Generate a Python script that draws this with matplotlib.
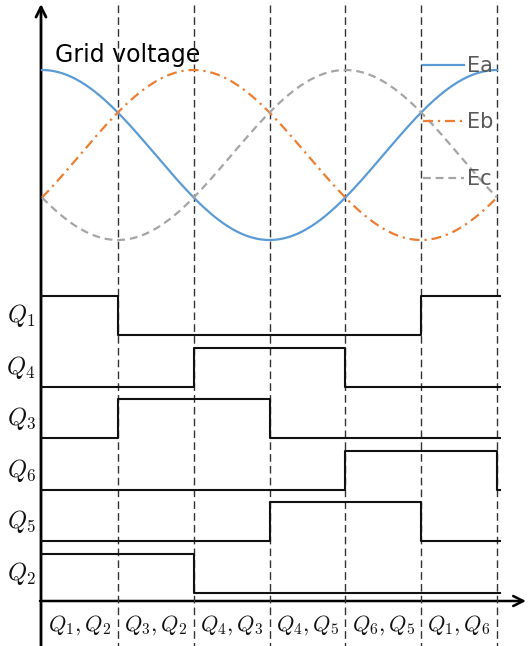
import numpy as np
import matplotlib
matplotlib.use("Agg")
import matplotlib.pyplot as plt

# ---------------- data ----------------
sector_bounds = [0, 60, 120, 180, 240, 300, 360]          # electrical degrees
phase_names = ["Ea", "Eb", "Ec"]
phase_shift = [0, -120, 120]                                # degrees
phase_amp = [1.0, 1.0, 1.0]

switch_names = ["$Q_1$", "$Q_4$", "$Q_3$", "$Q_6$", "$Q_5$", "$Q_2$"]
Q1 = [1, 0, 0, 0, 0, 1]
Q4 = [0, 0, 1, 1, 0, 0]
Q3 = [0, 1, 1, 0, 0, 0]
Q6 = [0, 0, 0, 0, 1, 1]
Q5 = [0, 0, 0, 1, 1, 0]
Q2 = [1, 1, 0, 0, 0, 0]
switch_states = [Q1, Q4, Q3, Q6, Q5, Q2]
switch_tail = [1, 0, 0, 0, 0, 0]   # level right after 360 deg

sector_labels = ["$Q_1, Q_2$", "$Q_3, Q_2$", "$Q_4, Q_3$",
                 "$Q_4, Q_5$", "$Q_6, Q_5$", "$Q_1, Q_6$"]

# ---------------- layout ----------------
W, H = 528, 646
plt.rcParams['mathtext.fontset'] = 'cm'
plt.rcParams['font.family'] = ['DejaVu Sans']

fig = plt.figure(figsize=(W / 100, H / 100), dpi=100)

def frac(x0, y0, x1, y1):
    return [x0 / W, 1 - y1 / H, (x1 - x0) / W, (y1 - y0) / H]

X0, X1 = 42, 497

# background pixel axes
ax0 = fig.add_axes([0, 0, 1, 1])
ax0.set_xlim(0, W)
ax0.set_ylim(H, 0)
ax0.axis('off')

# full-height axes for sector boundaries
axf = fig.add_axes(frac(X0, 0, X1, H))
axf.set_xlim(sector_bounds[0], sector_bounds[-1])
axf.set_ylim(H, 0)
axf.axis('off')
axf.vlines(sector_bounds[1:], 5, H, colors='#333333', linewidth=1.0,
           linestyles=(0, (5.5, 3)), clip_on=False)

# sine axes
axs = fig.add_axes(frac(X0, 70, X1, 240))
axs.set_xlim(sector_bounds[0], sector_bounds[-1])
axs.set_ylim(-1, 1)
axs.axis('off')
theta = np.linspace(sector_bounds[0], sector_bounds[-1], 721)
colors = ['#5B9BD5', '#ED7D31', '#A5A5A5']
styles = ['-', (0, (4.5, 2.2, 1.0, 2.2)), (0, (3.5, 2.2))]
handles = []
for name, sh, a, c, ls in zip(phase_names, phase_shift, phase_amp, colors, styles):
    ln, = axs.plot(theta, a * np.cos(np.deg2rad(theta + sh)), color=c,
                   linestyle=ls, linewidth=1.6, label=name, clip_on=False)
    handles.append(ln)

leg = axs.legend(handles=handles, loc='upper left',
                 bbox_to_anchor=(423 / W, 1 - 56 / H),
                 bbox_transform=fig.transFigure, frameon=False,
                 fontsize=15, handlelength=1.95, handletextpad=0.15,
                 labelspacing=1.75, borderaxespad=0, borderpad=0)
for t in leg.get_texts():
    t.set_color('#595959')

ax0.text(55, 55, "Grid voltage", fontsize=17, color='black',
         ha='left', va='center')

# gate signal axes
pitch = 51.6
axg = fig.add_axes(frac(X0, 601 - 6 * pitch, X1, 601))
axg.set_xlim(sector_bounds[0], sector_bounds[-1])
axg.set_ylim(0, 6)
axg.axis('off')
low_off, hi_h = 0.155, 0.755
for i, (nm, st, tl) in enumerate(zip(switch_names, switch_states, switch_tail)):
    k = 5 - i
    base = k + low_off
    xs = list(sector_bounds) + [sector_bounds[-1] + 2.4]
    ys = [base + hi_h * s for s in st] + [base + hi_h * tl] * 2
    axg.step(xs, ys, where='post', color='#111111', linewidth=1.5,
             clip_on=False)
    axg.text(-5, base + hi_h / 2, nm, fontsize=17.5, ha='right', va='center',
             color='#111111')

mids = [(a + b) / 2 for a, b in zip(sector_bounds[:-1], sector_bounds[1:])]
for m, lab in zip(mids, sector_labels):
    axg.text(m, -0.47, lab, fontsize=16, ha='center', va='center',
             color='#111111')

# axis arrows
ax0.annotate('', xy=(41, 4), xytext=(41, H + 2),
             arrowprops=dict(arrowstyle='->', lw=2.0, color='black',
                             mutation_scale=18, shrinkA=0, shrinkB=0))
ax0.annotate('', xy=(526, 601), xytext=(40, 601),
             arrowprops=dict(arrowstyle='->', lw=1.8, color='black',
                             mutation_scale=18, shrinkA=0, shrinkB=0))

fig.savefig('out.png', dpi=100)
